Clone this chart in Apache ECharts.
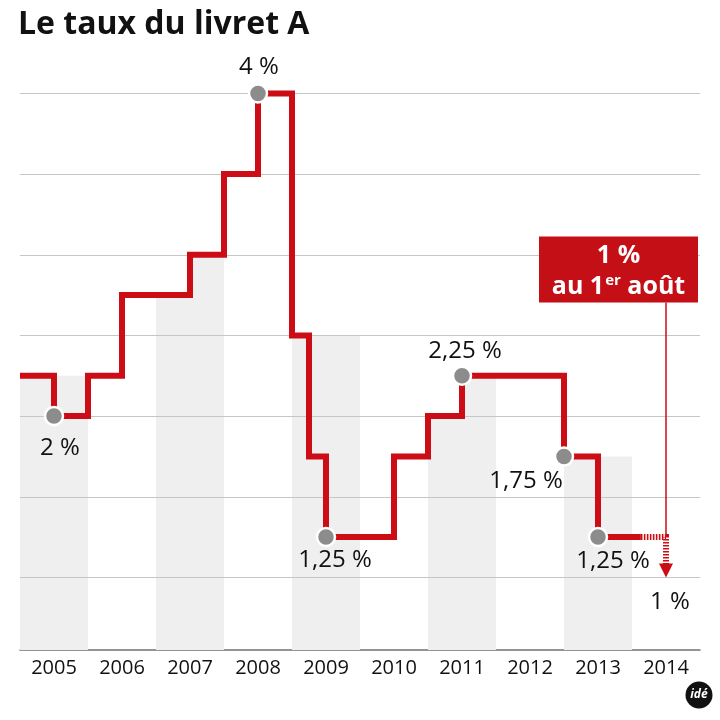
<!DOCTYPE html>
<html><head><meta charset="utf-8">
<script src="https://cdn.jsdelivr.net/npm/echarts@6/dist/echarts.min.js"></script>
<style>html,body{margin:0;padding:0;background:#fff}#c{width:720px;height:720px}</style>
</head><body><div id="c"></div>
<script>
// ---- data ----
const years = ['2005','2006','2007','2008','2009','2010','2011','2012','2013','2014'];
const rateDates  = [2005, 2005.5, 2006, 2006.5, 2007.5, 2008, 2008.5, 2009, 2009.25, 2009.5, 2010.5, 2011, 2011.5, 2013, 2013.5, 2014.13];
const rateValues = [2.25, 2,      2.25, 2.75,   3,      3.5,  4,      2.5,  1.75,    1.25,   1.75,   2,    2.25,   1.75, 1.25,   1.25];
const markedDates  = [2005.5, 2008.5, 2009.5, 2011.5, 2013, 2013.5];
const markedValues = [2,      4,      1.25,   2.25,   1.75, 1.25];
const bandStarts = [2005,   2005.5, 2007,  2007.5, 2009, 2011, 2011.5, 2013];
const bandEnds   = [2005.5, 2006,   2007.5, 2008,  2010, 2011.5, 2012, 2014];
const bandTops   = [2.25,   2.25,   2.75,  3,      2.5,  2,    2.25,   1.75];
const gridValues = [1, 1.5, 2, 2.5, 3, 3.5, 4];
const newRateDate = 2014.5, newRate = 1, tailFrom = 2014.13, tailRate = 1.25;

// ---- styles ----
const RED = '#cc0d15', FONT = 'Open Sans';
const X_MIN = 2005, X_MAX = 2015, Y_MIN = 0.55, Y_MAX = 4.3;
const labelOffsets = [[6,32],[1,-26],[9,23],[3,-25],[-38,25],[15,24]];
const fmt = v => String(v).replace('.', ',') + ' %';

const chart = echarts.init(document.getElementById('c'), null, {renderer:'canvas'});
chart.setOption({
  animation: false,
  backgroundColor: '#fff',
  title: { text: 'Le taux du livret A', left: 13, top: 4,
    textStyle: { fontFamily: FONT, fontSize: 32, fontWeight: 'bold', color: '#111' } },
  grid: { left: 20, right: 20, top: 45, bottom: 70 },
  xAxis: [
    { type: 'value', min: X_MIN, max: X_MAX, show: false },
    { type: 'category', data: years, boundaryGap: true, position: 'bottom',
      axisLine: { show: true, onZero: false, lineStyle: { color: '#707070', width: 1.5 } },
      axisTick: { show: false },
      axisLabel: { fontFamily: FONT, fontSize: 20, color: '#111', margin: 8 } }
  ],
  yAxis: { type: 'value', min: Y_MIN, max: Y_MAX, show: false },
  series: [
    { type: 'custom', xAxisIndex: 0, z: 1, silent: true,
      data: bandStarts.map((s, i) => [s, bandEnds[i], bandTops[i]]),
      renderItem: (p, api) => {
        const a = api.coord([api.value(0), api.value(2)]);
        const b = api.coord([api.value(1), Y_MIN]);
        return { type: 'rect', shape: { x: a[0], y: a[1], width: b[0]-a[0], height: b[1]-a[1] },
                 style: { fill: '#efefef' } };
      } },
    { type: 'custom', xAxisIndex: 0, z: 2, silent: true,
      data: gridValues.map(v => [v]),
      encode: { y: 0 },
      renderItem: (p, api) => {
        const a = api.coord([X_MIN, api.value(0)]);
        const b = api.coord([X_MAX, api.value(0)]);
        const y = Math.round(a[1]) + 0.5;
        return { type: 'line', shape: { x1: a[0], y1: y, x2: b[0], y2: y },
                 style: { stroke: '#c6c6c6', lineWidth: 1 } };
      } },
    { type: 'line', xAxisIndex: 0, z: 3, step: 'end', symbol: 'none', silent: true,
      data: rateDates.map((d, i) => [d, rateValues[i]]),
      lineStyle: { color: RED, width: 6, join: 'miter', cap: 'butt' } },
    { type: 'custom', xAxisIndex: 0, z: 3, silent: true,
      data: [[newRateDate, newRate, tailRate, tailFrom]],
      renderItem: (p, api) => {
        const tip = api.coord([api.value(0), api.value(1)]);
        const corner = api.coord([api.value(0), api.value(2)]);
        const start = api.coord([api.value(3), api.value(2)]);
        const boxL = tip[0]-127, boxT = tip[1]-341, boxW = 159, boxH = 66;
        return { type: 'group', children: [
          { type: 'line', shape: { x1: tip[0], y1: boxT+boxH, x2: tip[0], y2: corner[1]-3 },
            style: { stroke: RED, lineWidth: 1.5 } },
          { type: 'polyline', shape: { points: [start, [corner[0], corner[1]], [tip[0], tip[1]-13]] },
            style: { stroke: RED, lineWidth: 6, lineDash: [1.6, 1.4], fill: null } },
          { type: 'polygon', shape: { points: [[tip[0]-7, tip[1]-14], [tip[0]+7, tip[1]-14], [tip[0], tip[1]]] },
            style: { fill: RED } },
          { type: 'text', x: tip[0]+4, y: tip[1]+25,
            style: { text: '1 %', fontFamily: FONT, fontSize: 24, fill: '#111', align: 'center', verticalAlign: 'middle' } },
          { type: 'rect', shape: { x: boxL, y: boxT, width: boxW, height: boxH }, style: { fill: '#c40f17' } },
          { type: 'text', x: boxL + boxW/2, y: boxT + 19,
            style: { text: '1 %', fontFamily: FONT, fontSize: 25, fontWeight: 'bold', fill: '#fff', align: 'center', verticalAlign: 'middle' } },
          { type: 'text', x: boxL + boxW/2, y: boxT + 50,
            style: { text: '{a|au 1}{s|er}{a| août}', align: 'center', verticalAlign: 'middle',
              rich: { a: { fontFamily: FONT, fontSize: 25, fontWeight: 'bold', fill: '#fff', color: '#fff' },
                      s: { fontFamily: FONT, fontSize: 15, fontWeight: 'bold', fill: '#fff', color: '#fff', padding: [0,0,12,1] } } } }
        ] };
      } },
    { type: 'scatter', xAxisIndex: 0, z: 4, silent: true, symbol: 'circle', symbolSize: 18,
      itemStyle: { color: '#8c8c8c', borderColor: '#fff', borderWidth: 2.5, opacity: 1 },
      data: markedDates.map((d, i) => ({ value: [d, markedValues[i]],
        label: { show: true, position: 'inside', offset: labelOffsets[i], formatter: fmt(markedValues[i]),
                 fontFamily: FONT, fontSize: 24, color: '#111' } })) }
  ],
  graphic: [
    { type: 'circle', shape: { cx: 699, cy: 695, r: 13.5 }, style: { fill: '#111' } },
    { type: 'text', x: 699, y: 695, style: { text: 'idé', fontFamily: FONT, fontSize: 12, fontWeight: 'bold',
      fontStyle: 'italic', fill: '#fff', align: 'center', verticalAlign: 'middle' } }
  ]
});
</script></body></html>
